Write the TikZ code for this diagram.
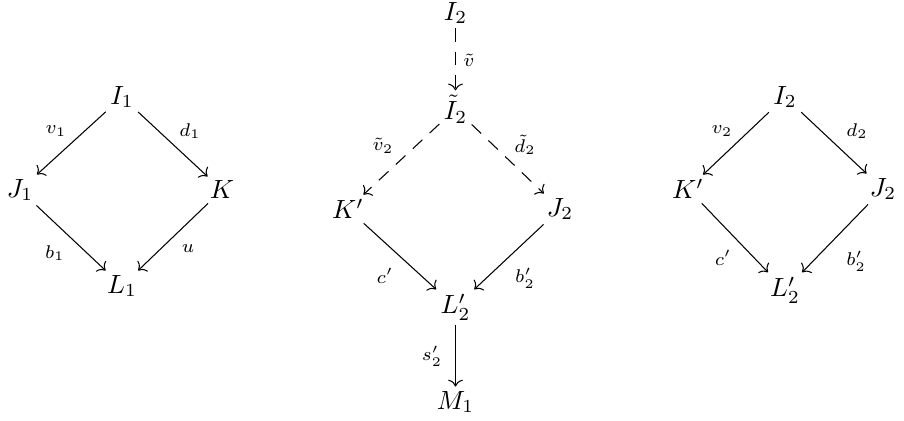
\documentclass[tikz,border=0pt]{standalone}
\usetikzlibrary{arrows.meta}
\begin{document}
\begin{tikzpicture}[x=0.38pt,y=-0.38pt,
  obj/.style={inner sep=1.5pt},
  lab/.style={font=\scriptsize, inner sep=0pt},
  arr/.style={-{To[length=2.6pt,width=5.6pt]}},
  darr/.style={-{To[length=2.6pt,width=5.6pt]}, dash pattern=on 5pt off 3.8pt}]
\useasboundingbox (0,0) rectangle (904,421);
% left
\node[obj] (I1) at (122,97) {$I_1$};
\node[obj] (J1) at (20,190) {$J_1$};
\node[obj] (K)  at (222,190) {$K$};
\node[obj] (L1) at (122,286) {$L_1$};
\draw[arr] (I1) -- (J1);
\draw[arr] (I1) -- (K);
\draw[arr] (J1) -- (L1);
\draw[arr] (K) -- (L1);
\node[lab] (lv1) at (56,131) {$v_1$};
\node[lab] (ld1) at (190,131) {$d_1$};
\node[lab] (lb1) at (55,253) {$b_1$};
\node[lab] (lu)  at (188,249) {$u$};
% middle
\node[obj] (I2m) at (455.5,13) {$I_2$};
\node[obj] (tI2) at (455.5,109) {$\tilde{I}_2$};
\node[obj] (Kpm) at (348,209) {$K'$};
\node[obj] (J2m) at (560,209) {$J_2$};
\node[obj] (L2m) at (455.5,307) {$L'_2$};
\node[obj] (M1)  at (455.5,402) {$M_1$};
\draw[darr] (I2m) -- (tI2);
\draw[darr] (tI2) -- (Kpm);
\draw[darr] (tI2) -- (J2m);
\draw[arr] (Kpm) -- (L2m);
\draw[arr] (J2m) -- (L2m);
\draw[arr] (L2m) -- (M1);
\node[lab] (ltv)  at (469,60) {$\tilde{v}$};
\node[lab] (ltv2) at (383,146) {$\tilde{v}_2$};
\node[lab] (ltd2) at (525,145) {$\tilde{d}_2$};
\node[lab] (lcm)  at (385,276) {$c'$};
\node[lab] (lbm)  at (525,278) {$b'_2$};
\node[lab] (ls2)  at (432,356) {$s'_2$};
% right
\node[obj] (I2r) at (785,97) {$I_2$};
\node[obj] (Kpr) at (688,189) {$K'$};
\node[obj] (J2r) at (883,189) {$J_2$};
\node[obj] (L2r) at (785,290) {$L'_2$};
\draw[arr] (I2r) -- (Kpr);
\draw[arr] (I2r) -- (J2r);
\draw[arr] (Kpr) -- (L2r);
\draw[arr] (J2r) -- (L2r);
\node[lab] (lv2) at (722,131) {$v_2$};
\node[lab] (ld2) at (857,131) {$d_2$};
\node[lab] (lcr) at (723,258) {$c'$};
\node[lab] (lbr) at (856,261) {$b'_2$};
\end{tikzpicture}
\end{document}
